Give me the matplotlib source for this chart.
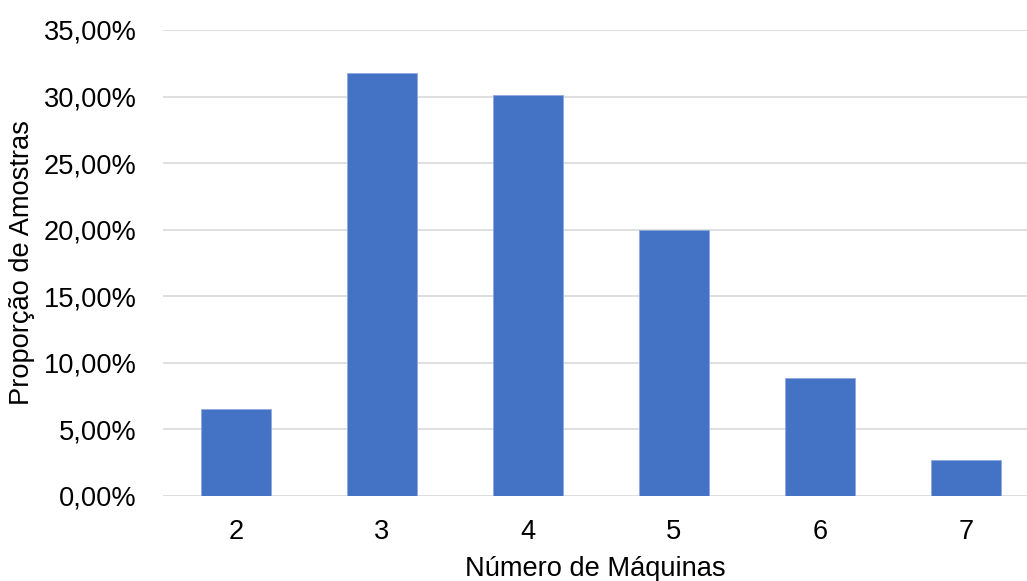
import matplotlib.pyplot as plt
from matplotlib.ticker import FuncFormatter

plt.rcParams['font.family'] = ['Liberation Sans', 'DejaVu Sans']

maquinas = ['2', '3', '4', '5', '6', '7']
proporcao = [6.51, 31.76, 30.10, 19.95, 8.86, 2.70]

fig = plt.figure(figsize=(10.27, 5.81), dpi=100)
ax = fig.add_axes([0.1587, 0.1468, 0.8413, 0.8016])

x = range(len(maquinas))
ax.bar(x, proporcao, width=0.48, color='#4472C4', edgecolor='#8FAADC', linewidth=0.6, zorder=3)

ax.set_xlim(-0.5, 5.42)
ax.set_ylim(0, 35)
ax.set_yticks(range(0, 36, 5))
ax.yaxis.set_major_formatter(FuncFormatter(lambda v, p: f'{v:.2f}%'.replace('.', ',')))
ax.set_xticks(list(x))
ax.set_xticklabels(maquinas)

ax.grid(axis='y', color='#D9D9D9', linewidth=1.2, zorder=0)
for s in ax.spines.values():
    s.set_visible(False)
ax.tick_params(axis='both', length=0, labelsize=19.6)
ax.tick_params(axis='y', pad=19)
ax.tick_params(axis='x', pad=17)

ax.set_xlabel('Número de Máquinas', fontsize=19.6, labelpad=8)
ax.set_ylabel('Proporção de Amostras', fontsize=19.6, labelpad=6)

fig.savefig('out.png', dpi=100)
